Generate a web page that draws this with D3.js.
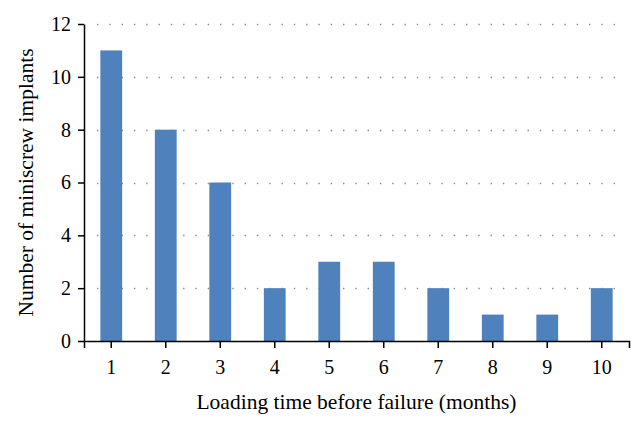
<!DOCTYPE html>
<html>
<head>
<meta charset="utf-8">
<script src="https://cdn.jsdelivr.net/npm/d3@7"></script>
<style>
  body { margin: 0; background: #fff; }
  text { font-family: "Liberation Serif", "DejaVu Serif", serif; fill: #000; }
</style>
</head>
<body>
<svg id="chart" width="643" height="426"></svg>
<script>
// failure counts per loading month
const months = [1, 2, 3, 4, 5, 6, 7, 8, 9, 10];
const implants = [11, 8, 6, 2, 3, 3, 2, 1, 1, 2];
const yTicks = [0, 2, 4, 6, 8, 10, 12];

const svg = d3.select("#chart"),
      margin = { top: 24, right: 14, bottom: 85, left: 84 },
      width = 643 - margin.left - margin.right,
      height = 426 - margin.top - margin.bottom;

const g = svg.append("g")
  .attr("transform", `translate(${margin.left},${margin.top})`);

let x = d3.scaleBand()
  .domain(months)
  .range([0, width])
  .paddingInner(0.6)
  .paddingOuter(0.3);

let y = d3.scaleLinear()
  .domain([0, 12])
  .range([height, 0]);

// dotted grid
g.append("g")
  .selectAll("line")
  .data(yTicks.filter(t => t > 0))
  .enter().append("line")
    .attr("x1", 13)
    .attr("x2", width - 6)
    .attr("y1", d => Math.round(y(d)) + 0.5)
    .attr("y2", d => Math.round(y(d)) + 0.5)
    .attr("stroke", "#8a8a8a")
    .attr("stroke-width", 1.4)
    .attr("stroke-dasharray", "1.4,10.9");

// bars
g.append("g")
  .selectAll("rect")
  .data(months.map((m, i) => ({ m: m, v: implants[i] })))
  .enter().append("rect")
    .attr("x", d => x(d.m))
    .attr("y", d => y(d.v))
    .attr("width", x.bandwidth())
    .attr("height", d => height - y(d.v))
    .attr("fill", "#4f81bd");

// axes
let xAxis = g.append("g")
  .attr("transform", `translate(0,${height})`)
  .call(d3.axisBottom(x).tickSize(7).tickSizeOuter(7).tickPadding(12));

let yAxis = g.append("g")
  .call(d3.axisLeft(y).tickValues(yTicks).tickSize(6).tickSizeOuter(0).tickPadding(7));

[xAxis, yAxis].forEach(a => {
  a.selectAll("path, line").attr("stroke", "#000").attr("stroke-width", 1.5);
  a.selectAll("text").attr("font-size", 20).style("font-family", "Liberation Serif, serif");
});

// titles
svg.append("text")
  .attr("x", margin.left + width / 2)
  .attr("y", 409)
  .attr("text-anchor", "middle")
  .attr("font-size", 21.5)
  .text("Loading time before failure (months)");

svg.append("text")
  .attr("transform", `translate(33,${margin.top + height / 2}) rotate(-90)`)
  .attr("text-anchor", "middle")
  .attr("font-size", 21.5)
  .text("Number of miniscrew implants");
</script>
</body>
</html>
